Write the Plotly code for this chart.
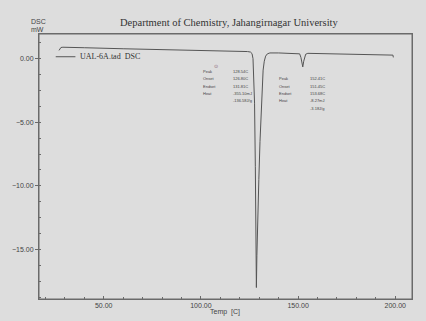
import plotly.graph_objects as go

# ---- data ----
temp_c = [27, 27.5, 28, 29, 30, 40, 60, 80, 100, 110, 120, 124, 125.5, 126.3,
          126.8, 127.2, 127.6, 128.0, 128.3, 128.54, 128.8, 129.2, 129.8, 130.4,
          131.0, 131.5, 132.0, 132.6, 133.3, 134.2, 135.5, 140, 145, 150, 150.8,
          151.45, 152.0, 152.41, 152.9, 153.4, 153.9, 155, 160, 170, 180, 190,
          198, 198.8, 199]
dsc_mw = [0.65, 0.8, 0.88, 0.9, 0.9, 0.86, 0.78, 0.72, 0.66, 0.62, 0.58, 0.56,
          0.52, 0.4, 0.0, -1.2, -3.5, -8.5, -13.5, -18.0, -15.5, -12.5, -9.5,
          -6.5, -3.8, -2.0, -0.9, -0.2, 0.2, 0.38, 0.45, 0.45, 0.44, 0.43, 0.38,
          0.1, -0.35, -0.65, -0.2, 0.15, 0.35, 0.42, 0.41, 0.38, 0.35, 0.33,
          0.31, 0.28, 0.1]

x_ticks = [50, 100, 150, 200]
y_ticks = [0, -5, -10, -15]

peak1_labels = ["Peak", "Onset", "Endset", "Heat", ""]
peak1_values = ["128.54C", "126.80C", "131.81C", "-355.10mJ", "-136.58J/g"]
peak2_labels = ["Peak", "Onset", "Endset", "Heat", ""]
peak2_values = ["152.41C", "151.45C", "153.68C", "-8.27mJ", "-3.18J/g"]

title_text = "Department of Chemistry, Jahangirnagar University"
series_name = "UAL-6A.tad  DSC"

# ---- figure ----
bg = "#dddddd"
axis_col = "#6a6a6a"
txt_col = "#444444"

fig = go.Figure()
fig.add_trace(go.Scatter(x=temp_c, y=dsc_mw, mode="lines", name=series_name,
                         line=dict(color="#555555", width=1), showlegend=False,
                         hoverinfo="skip"))

W, H = 426, 321
L, R, T, B = 33, 14, 34, 19
pw, ph = W - L - R, H - T - B


def px(xp):
    return (xp - L) / pw


def py(yp):
    return 1 - (yp - T) / ph


ann = []
ann.append(dict(text=title_text, x=px(226), y=py(22), xref="paper", yref="paper",
                showarrow=False, xanchor="center", yanchor="middle",
                font=dict(family="Liberation Serif", size=10.5, color="#333333")))
ann.append(dict(text="DSC", x=px(23), y=py(21), xref="paper", yref="paper",
                showarrow=False, xanchor="left", yanchor="middle",
                font=dict(family="Liberation Sans", size=7, color=txt_col)))
ann.append(dict(text="mW", x=px(23), y=py(29), xref="paper", yref="paper",
                showarrow=False, xanchor="left", yanchor="middle",
                font=dict(family="Liberation Sans", size=7, color=txt_col)))
ann.append(dict(text=series_name, x=px(73), y=py(57), xref="paper", yref="paper",
                showarrow=False, xanchor="left", yanchor="middle",
                font=dict(family="Liberation Serif", size=8, color="#333333")))
ann.append(dict(text="Temp  [C]", x=px(222), y=py(315), xref="paper", yref="paper",
                showarrow=False, xanchor="center", yanchor="middle",
                font=dict(family="Liberation Sans", size=7, color=txt_col)))
ann.append(dict(text="⊙", x=px(213), y=py(66), xref="paper", yref="paper",
                showarrow=False, xanchor="center", yanchor="middle",
                font=dict(family="DejaVu Sans", size=5, color="#886677")))

rows1 = [72, 79.3, 86.7, 94, 101.3]
rows2 = [79, 86.7, 94, 101.5, 109]
for lab, val, yy in zip(peak1_labels, peak1_values, rows1):
    if lab:
        ann.append(dict(text=lab, x=px(198), y=py(yy), xref="paper", yref="paper",
                        showarrow=False, xanchor="left", yanchor="middle",
                        font=dict(family="Liberation Sans", size=4, color=txt_col)))
    ann.append(dict(text=val, x=px(228), y=py(yy), xref="paper", yref="paper",
                    showarrow=False, xanchor="left", yanchor="middle",
                    font=dict(family="Liberation Sans", size=4, color=txt_col)))
for lab, val, yy in zip(peak2_labels, peak2_values, rows2):
    if lab:
        ann.append(dict(text=lab, x=px(275), y=py(yy), xref="paper", yref="paper",
                        showarrow=False, xanchor="left", yanchor="middle",
                        font=dict(family="Liberation Sans", size=4, color=txt_col)))
    ann.append(dict(text=val, x=px(306), y=py(yy), xref="paper", yref="paper",
                    showarrow=False, xanchor="left", yanchor="middle",
                    font=dict(family="Liberation Sans", size=4, color=txt_col)))

shapes = [dict(type="line", xref="paper", yref="paper", x0=px(50), x1=px(70),
               y0=py(57), y1=py(57), line=dict(color="#555555", width=1)),
          dict(type="rect", xref="paper", yref="paper", x0=0, x1=1, y0=0, y1=1,
               line=dict(color=axis_col, width=1), layer="above")]

fig.update_layout(
    width=W, height=H,
    margin=dict(l=L, r=R, t=T, b=B, pad=0),
    paper_bgcolor=bg, plot_bgcolor=bg,
    annotations=ann, shapes=shapes,
    showlegend=False, hovermode=False,
    xaxis=dict(range=[16.7, 208.6], tickvals=x_ticks, tickformat=".2f",
               ticks="inside", ticklen=3, tickcolor=axis_col,
               showline=True, linecolor=axis_col, linewidth=1, mirror=True,
               showgrid=False, zeroline=False,
               tickfont=dict(family="Liberation Sans", size=7, color=txt_col),
               minor=dict(dtick=10, tick0=0, ticks="inside", ticklen=2,
                          tickcolor=axis_col, showgrid=False)),
    yaxis=dict(range=[-18.9, 1.94], tickvals=y_ticks, tickformat=".2f",
               ticks="outside", ticklen=3, tickcolor=axis_col,
               showline=True, linecolor=axis_col, linewidth=1, mirror=True,
               showgrid=False, zeroline=False,
               tickfont=dict(family="Liberation Sans", size=7, color=txt_col),
               minor=dict(dtick=1.25, tick0=0, ticks="inside", ticklen=2,
                          tickcolor=axis_col, showgrid=False)),
)

fig.write_html("out.html",
               config={"displayModeBar": False, "staticPlot": True},
               post_script="document.body.style.margin='0';"
                           "document.body.style.padding='0';"
                           "document.body.style.background='#dddddd';"
                           "document.body.style.overflow='hidden';")
